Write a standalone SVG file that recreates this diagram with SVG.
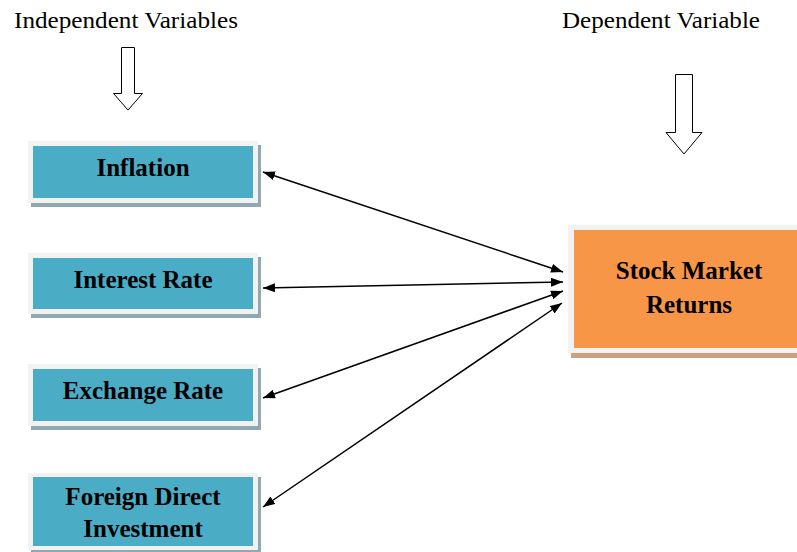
<svg xmlns="http://www.w3.org/2000/svg" width="797" height="552" viewBox="0 0 797 552">
<style>
.lbl{font-family:"Liberation Serif","Times New Roman",serif;font-size:24px;fill:#000}
.bt{font-family:"Liberation Serif","Times New Roman",serif;font-size:25px;font-weight:bold;fill:#000;text-anchor:middle}
.frame{fill:#f2f2f2}
.teal{fill:#4bacc6}
.orange{fill:#f79646}
.sh1{fill:#8fa8b2}
.sh2{fill:#cfa07c}
.hollow{fill:#fff;stroke:#000;stroke-width:1}
.conn{stroke:#000;stroke-width:1.5;fill:none;marker-start:url(#ah);marker-end:url(#ah)}
</style>
<defs>
<marker id="ah" viewBox="0 0 12 9" refX="12" refY="4.5" markerWidth="12" markerHeight="9" markerUnits="userSpaceOnUse" orient="auto-start-reverse">
<path d="M0,0 L12,4.5 L0,9 Z" fill="#000"/>
</marker>
</defs>
<rect width="797" height="552" fill="#fff"/>
<g id="label-independent"><text class="lbl" x="14" y="28" textLength="224" lengthAdjust="spacingAndGlyphs">Independent Variables</text></g>
<g id="label-dependent"><text class="lbl" x="562" y="28" textLength="198" lengthAdjust="spacingAndGlyphs">Dependent Variable</text></g>
<g id="arrow-independent"><path class="hollow" d="M121.5,47.5 H134.5 V93.5 H142.5 L128,110 L113.5,93.5 H121.5 Z"/></g>
<g id="arrow-dependent"><path class="hollow" d="M675.5,74.5 H692.5 V132.5 H702 L684,154 L666,132.5 H675.5 Z"/></g>
<g id="node-inflation">
<rect class="sh1" x="31" y="145" width="230" height="62"/>
<rect class="frame" x="28" y="141" width="230" height="62"/>
<rect class="teal" x="33" y="146" width="220" height="52"/>
<text class="bt" x="143" y="176">Inflation</text>
</g>
<g id="node-interest">
<rect class="sh1" x="31" y="257" width="230" height="61"/>
<rect class="frame" x="28" y="253" width="230" height="61"/>
<rect class="teal" x="33" y="258" width="220" height="51"/>
<text class="bt" x="143" y="288">Interest Rate</text>
</g>
<g id="node-exchange">
<rect class="sh1" x="31" y="368" width="230" height="62"/>
<rect class="frame" x="28" y="364" width="230" height="62"/>
<rect class="teal" x="33" y="369" width="220" height="52"/>
<text class="bt" x="143" y="399">Exchange Rate</text>
</g>
<g id="node-fdi">
<rect class="sh1" x="31" y="477" width="230" height="77"/>
<rect class="frame" x="28" y="473" width="230" height="77"/>
<rect class="teal" x="33" y="477" width="220" height="69"/>
<text class="bt" x="143" y="505">Foreign Direct</text>
<text class="bt" x="143" y="537">Investment</text>
</g>
<g id="node-returns">
<rect class="sh2" x="571" y="229" width="230" height="129"/>
<rect class="frame" x="568" y="225" width="232" height="128"/>
<rect class="orange" x="574" y="230" width="226" height="118"/>
<text class="bt" x="689" y="279">Stock Market</text>
<text class="bt" x="689" y="313">Returns</text>
</g>
<g id="connectors">
<line class="conn" x1="263" y1="172" x2="563" y2="272"/>
<line class="conn" x1="263" y1="288" x2="563" y2="282"/>
<line class="conn" x1="263" y1="398" x2="563" y2="291"/>
<line class="conn" x1="263" y1="507" x2="562" y2="303"/>
</g>
</svg>
